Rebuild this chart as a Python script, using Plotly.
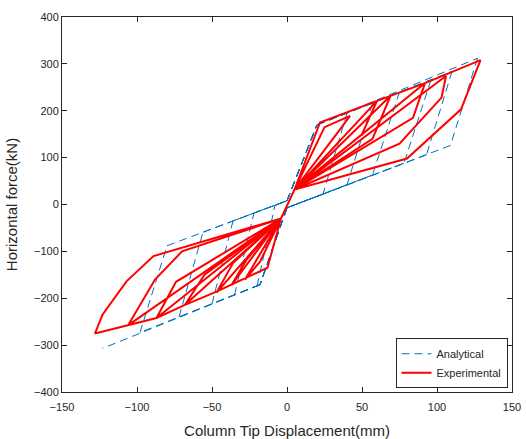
import plotly.graph_objects as go

# ---------------- data ----------------
# Experimental hysteresis path (displacement mm, force kN)
exp_x = [5, 25, 42, 33, 5, -4, -28, -18, -4,
         5, 60, 50, 5, -4, -37, -27, -4,
         5, 69, 57, 5, -4, -47, -36, -4,
         5, 92, 84, 5, -4, -68, -55, -4,
         5, 106, 103, 75, 5, -4, -87, -74, -4,
         5, 22, 60, 92, 129, 116, 80, 5, -4, -106, -88, -70, -4,
         -13, -47, -68, -87, -105, -128, -123, -107, -89, -4]
exp_y = [32, 165, 189, 150, 32, -30, -160, -122, -30,
         32, 221, 150, 32, -30, -172, -118, -30,
         32, 232, 140, 32, -30, -188, -125, -30,
         32, 259, 185, 32, -30, -214, -150, -30,
         32, 274, 228, 130, 32, -30, -242, -165, -30,
         32, 175, 221, 259, 308, 203, 98, 32, -30, -258, -160, -100, -30,
         -135, -186, -214, -242, -256, -275, -235, -164, -110, -30]

# Analytical (model) path
ana_x = [0, 20, 40, 24, 0, -18, -20, -8, 0,
         20, 57, 40, 0, -18, -35, -22, 0,
         20, 75, 57, 0, -18, -50, -36, 0,
         20, 96, 78, 0, -18, -72, -56, 0,
         20, 110, 93, 0, -18, -98, -80, 0,
         20, 127, 109, 0, -18, -123]
ana_y = [8, 170, 195, 22, -7, -171, -174, -2, 8,
         170, 216, 42, -7, -171, -193, -18, 8,
         170, 240, 63, -7, -171, -212, -35, 8,
         170, 266, 88, -7, -171, -240, -59, 8,
         170, 284, 106, -7, -171, -273, -88, 8,
         170, 312, 126, -7, -171, -307]

x_ticks = [-150, -100, -50, 0, 50, 100, 150]
y_ticks = [-400, -300, -200, -100, 0, 100, 200, 300, 400]

# split the analytical path into individual segments so that retraced
# segments keep the same dash phase (stay visibly dashed)
seg_x, seg_y = [], []
for i in range(len(ana_x) - 1):
    seg_x += [ana_x[i], ana_x[i + 1], None]
    seg_y += [ana_y[i], ana_y[i + 1], None]

# ---------------- figure ----------------
FONT = "Liberation Sans, Arial"
fig = go.Figure()
fig.add_trace(go.Scatter(x=seg_x, y=seg_y, mode="lines", name="Analytical",
                         connectgaps=False,
                         line=dict(color="#0072BD", width=1, dash="8px,5px")))
fig.add_trace(go.Scatter(x=exp_x, y=exp_y, mode="lines", name="Experimental",
                         line=dict(color="#FF0000", width=2)))

axis_common = dict(showgrid=False, zeroline=False, showline=True, linecolor="#262626",
                   linewidth=1, mirror="ticks", ticks="inside", ticklen=5, automargin=False,
                   tickcolor="#262626", tickfont=dict(family=FONT, size=11, color="#262626"))

fig.update_layout(
    width=526, height=439,
    margin=dict(l=62, r=14, t=17, b=47),
    paper_bgcolor="white", plot_bgcolor="white",
    xaxis=dict(range=[-150, 150], tickvals=x_ticks, ticklabelstandoff=5,
               title=dict(text="Column Tip Displacement(mm)", standoff=14,
                          font=dict(family=FONT, size=15, color="#262626")),
               **axis_common),
    yaxis=dict(range=[-400, 400], tickvals=y_ticks,
               title=dict(text="Horizontal force(kN)", standoff=12,
                          font=dict(family=FONT, size=15, color="#262626")),
               **axis_common),
    legend=dict(x=0.99, y=0.01, xanchor="right", yanchor="bottom",
                bordercolor="#262626", borderwidth=1, bgcolor="white",
                font=dict(family=FONT, size=11, color="#262626"),
                tracegroupgap=0, itemwidth=30),
    showlegend=True,
)

fig.write_html("out.html")
